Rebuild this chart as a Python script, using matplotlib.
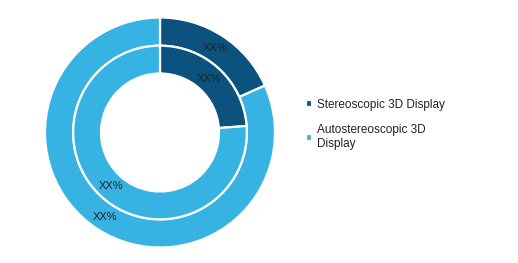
import matplotlib
matplotlib.use("Agg")
import matplotlib.pyplot as plt

categories = ["Stereoscopic 3D Display", "Autostereoscopic 3D\nDisplay"]
outer_values = [18.3, 81.7]
inner_values = [23.8, 76.2]
label_text = "XX%"
colors = ["#0b527f", "#36b3e3"]

W, H = 518, 263
fig = plt.figure(figsize=(W / 100, H / 100), dpi=100)
cx, cy, R = 160, 132.5, 115
ax = fig.add_axes([(cx - R) / W, (H - cy - R) / H, 2 * R / W, 2 * R / H])

plt.rcParams['font.family'] = ['Liberation Sans', 'DejaVu Sans']

wedges, texts, autotexts = ax.pie(
    outer_values, radius=1.0, colors=colors, startangle=90, counterclock=False,
    wedgeprops=dict(width=0.245, edgecolor="white", linewidth=1.6),
    autopct=lambda p: label_text, pctdistance=0.877,
    textprops=dict(fontsize=8, color="#222222", family=['Liberation Sans', 'DejaVu Sans']))
w2, t2, a2 = ax.pie(
    inner_values, radius=0.755, colors=colors, startangle=90, counterclock=False,
    wedgeprops=dict(width=0.242, edgecolor="white", linewidth=1.6),
    autopct=lambda p: label_text, pctdistance=0.835,
    textprops=dict(fontsize=8, color="#222222", family=['Liberation Sans', 'DejaVu Sans']))
ax.set_xlim(-1, 1)
ax.set_ylim(-1, 1)
ax.set_aspect("equal")
ax.axis("off")

fig.legend(wedges, categories, loc="upper left", bbox_to_anchor=(306 / W, 1 - 99 / H),
           frameon=False, handlelength=0.55, handleheight=0.55, handletextpad=0.4,
           labelspacing=1.1, borderaxespad=0, borderpad=0,
           prop=dict(family=['Liberation Sans', 'DejaVu Sans'], size=8.5),
           labelcolor="#222222")

fig.savefig("out.png", dpi=100)
